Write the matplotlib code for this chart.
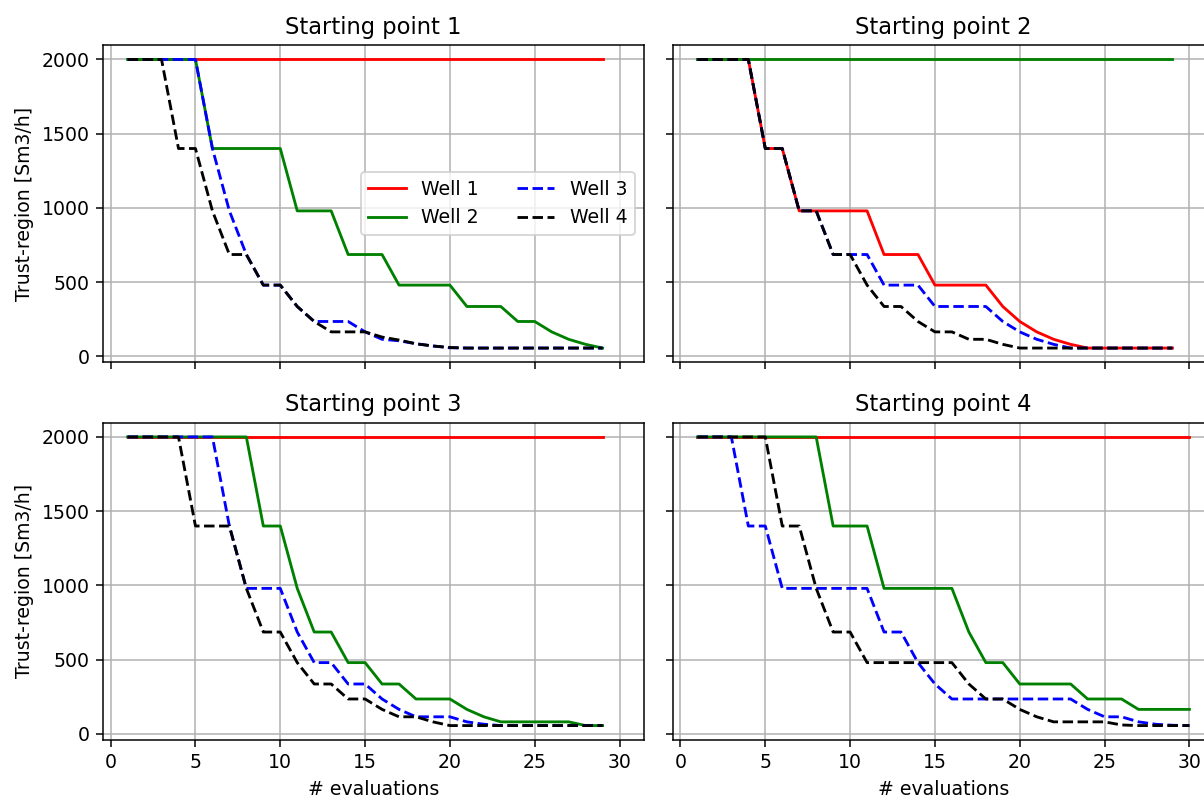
import numpy as np
import matplotlib.pyplot as plt

# trust-region size per evaluation, four starting points, four wells
evals = list(range(1, 30))
evals_sp4 = list(range(1, 31))

sp1_well1 = [2000, 2000, 2000, 2000, 2000, 2000, 2000, 2000, 2000, 2000,
             2000, 2000, 2000, 2000, 2000, 2000, 2000, 2000, 2000, 2000,
             2000, 2000, 2000, 2000, 2000, 2000, 2000, 2000, 2000]
sp1_well2 = [2000, 2000, 2000, 2000, 2000, 1400, 1400, 1400, 1400, 1400,
             980, 980, 980, 686, 686, 686, 480, 480, 480, 480,
             336, 336, 336, 235, 235, 165, 115, 81, 56]
sp1_well3 = [2000, 2000, 2000, 2000, 2000, 1400, 980, 686, 480, 480,
             336, 235, 235, 235, 165, 115, 105, 85, 70, 58,
             56, 56, 56, 56, 56, 56, 56, 56, 56]
sp1_well4 = [2000, 2000, 2000, 1400, 1400, 980, 686, 686, 480, 480,
             336, 235, 165, 165, 165, 130, 110, 85, 70, 60,
             56, 56, 56, 56, 56, 56, 56, 56, 56]

sp2_well1 = [2000, 2000, 2000, 2000, 1400, 1400, 980, 980, 980, 980,
             980, 686, 686, 686, 480, 480, 480, 480, 336, 235,
             165, 115, 81, 56, 56, 56, 56, 56, 56]
sp2_well2 = [2000, 2000, 2000, 2000, 2000, 2000, 2000, 2000, 2000, 2000,
             2000, 2000, 2000, 2000, 2000, 2000, 2000, 2000, 2000, 2000,
             2000, 2000, 2000, 2000, 2000, 2000, 2000, 2000, 2000]
sp2_well3 = [2000, 2000, 2000, 2000, 1400, 1400, 980, 980, 686, 686,
             686, 480, 480, 480, 336, 336, 336, 336, 235, 165,
             115, 81, 56, 56, 56, 56, 56, 56, 56]
sp2_well4 = [2000, 2000, 2000, 2000, 1400, 1400, 980, 980, 686, 686,
             480, 336, 336, 235, 165, 165, 115, 115, 81, 56,
             56, 56, 56, 56, 56, 56, 56, 56, 56]

sp3_well1 = [2000, 2000, 2000, 2000, 2000, 2000, 2000, 2000, 2000, 2000,
             2000, 2000, 2000, 2000, 2000, 2000, 2000, 2000, 2000, 2000,
             2000, 2000, 2000, 2000, 2000, 2000, 2000, 2000, 2000]
sp3_well2 = [2000, 2000, 2000, 2000, 2000, 2000, 2000, 2000, 1400, 1400,
             980, 686, 686, 480, 480, 336, 336, 235, 235, 235,
             165, 115, 81, 81, 81, 81, 81, 56, 56]
sp3_well3 = [2000, 2000, 2000, 2000, 2000, 2000, 1400, 980, 980, 980,
             686, 480, 480, 336, 336, 235, 165, 115, 115, 115,
             81, 65, 56, 56, 56, 56, 56, 56, 56]
sp3_well4 = [2000, 2000, 2000, 2000, 1400, 1400, 1400, 980, 686, 686,
             480, 336, 336, 235, 235, 165, 115, 115, 81, 56,
             56, 56, 56, 56, 56, 56, 56, 56, 56]

sp4_well1 = [2000, 2000, 2000, 2000, 2000, 2000, 2000, 2000, 2000, 2000,
             2000, 2000, 2000, 2000, 2000, 2000, 2000, 2000, 2000, 2000,
             2000, 2000, 2000, 2000, 2000, 2000, 2000, 2000, 2000, 2000]
sp4_well2 = [2000, 2000, 2000, 2000, 2000, 2000, 2000, 2000, 1400, 1400,
             1400, 980, 980, 980, 980, 980, 686, 480, 480, 336,
             336, 336, 336, 235, 235, 235, 165, 165, 165, 165]
sp4_well3 = [2000, 2000, 2000, 1400, 1400, 980, 980, 980, 980, 980,
             980, 686, 686, 480, 336, 235, 235, 235, 235, 235,
             235, 235, 235, 165, 115, 115, 81, 65, 58, 56]
sp4_well4 = [2000, 2000, 2000, 2000, 2000, 1400, 1400, 980, 686, 686,
             480, 480, 480, 480, 480, 480, 336, 235, 235, 165,
             115, 81, 81, 81, 81, 60, 56, 56, 56, 56]

panels = [
    ("Starting point 1", evals, [sp1_well1, sp1_well2, sp1_well3, sp1_well4]),
    ("Starting point 2", evals, [sp2_well1, sp2_well2, sp2_well3, sp2_well4]),
    ("Starting point 3", evals, [sp3_well1, sp3_well2, sp3_well3, sp3_well4]),
    ("Starting point 4", evals_sp4, [sp4_well1, sp4_well2, sp4_well3, sp4_well4]),
]
styles = ['r-', 'g-', 'b--', 'k--']
labels = ['Well 1', 'Well 2', 'Well 3', 'Well 4']

dpi = 136
fig, axes = plt.subplots(2, 2, sharex=True, sharey=True,
                         figsize=(1204 / dpi, 797 / dpi), dpi=dpi)
fig.subplots_adjust(left=103 / 1204, right=1214 / 1204,
                    top=1 - 45 / 797, bottom=1 - 740 / 797,
                    wspace=0.053, hspace=0.189)

for ax, (title, x, wells) in zip(axes.flat, panels):
    for y, st, lab in zip(wells, styles, labels):
        ax.plot(x, y, st, label=lab)
    ax.set_title(title)
    ax.grid(True)

axes[0, 0].set_yticks([0, 500, 1000, 1500, 2000])
axes[0, 0].legend(loc='center right', ncol=2)
for ax in axes[:, 0]:
    ax.set_ylabel('Trust-region [Sm3/h]')
for ax in axes[1, :]:
    ax.set_xlabel('# evaluations')

fig.savefig('out.png', dpi=dpi)
